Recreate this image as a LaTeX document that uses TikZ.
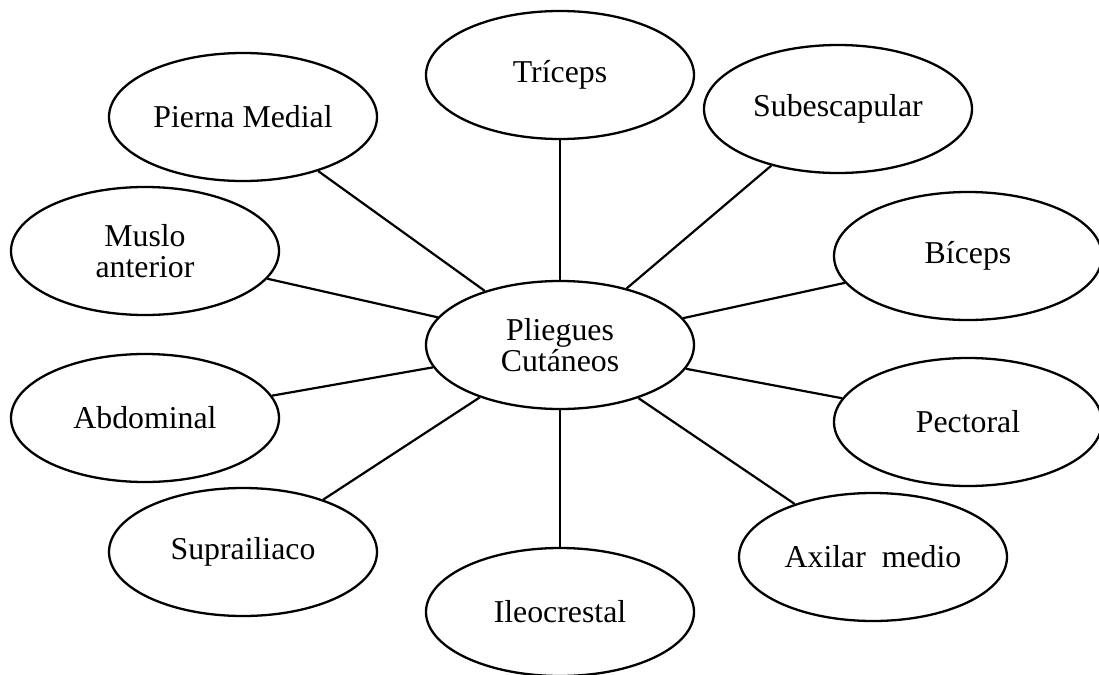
\documentclass[tikz,border=0pt]{standalone}
\usepackage{fontspec}
\setmainfont{Liberation Serif}
\usetikzlibrary{shapes.geometric}
\begin{document}
\begin{tikzpicture}[x=0.5pt,y=-0.5pt,
  bub/.style={ellipse,draw,line width=1.15pt,minimum width=134pt,minimum height=64pt,inner sep=0pt,align=center,font=\fontsize{15.9}{15.8}\selectfont},
  con/.style={line width=1.1pt}]
\useasboundingbox (0,0) rectangle (1099,675);
\node[bub] (c) at (560,345) {Pliegues\\Cutáneos};
\node[bub] (tri) at (560,75) {Tríceps};
\node[bub] (sub) at (838,109) {Subescapular};
\node[bub] (bic) at (968,256) {Bíceps};
\node[bub] (pec) at (968,422) {Pectoral};
\node[bub] (axi) at (873,557) {Axilar\ \ medio};
\node[bub] (ile) at (560,612) {Ileocrestal};
\node[bub] (sup) at (243,552) {Suprailiaco};
\node[bub] (abd) at (145,418) {Abdominal};
\node[bub] (mus) at (145,251) {Muslo\\anterior};
\node[bub] (pie) at (243,117) {Pierna Medial};
\foreach \n in {tri,sub,bic,pec,axi,ile,sup,abd,mus,pie}
  \draw[con] (c) -- (\n);
\end{tikzpicture}
\end{document}
